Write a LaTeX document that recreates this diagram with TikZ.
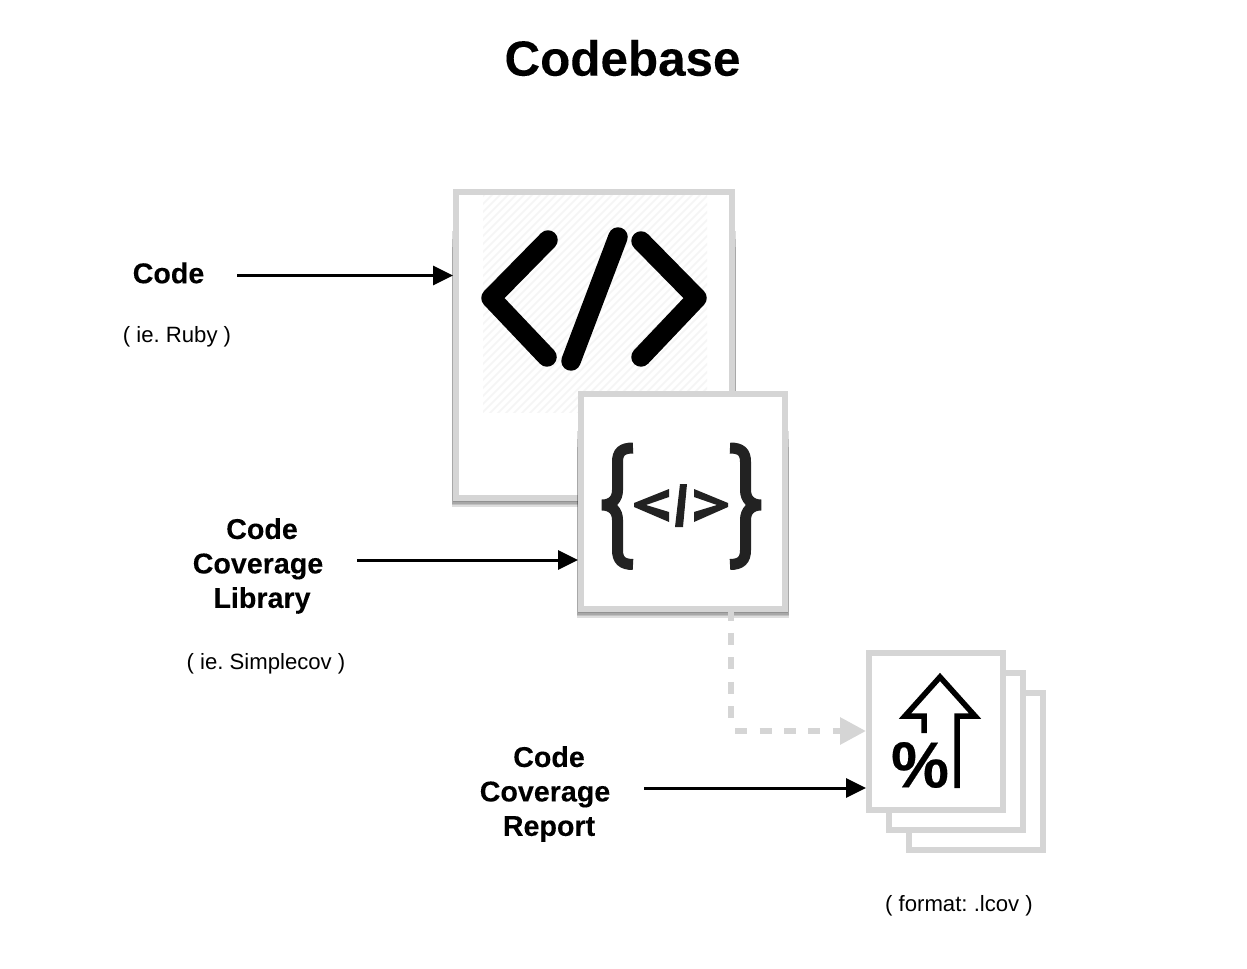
\documentclass[tikz,border=0pt]{standalone}
\usepackage{fontspec}
\setmainfont{Liberation Sans}[BoldFeatures={FakeBold=0.12}]
\newfontfamily\heavyfont{Liberation Sans Bold}[FakeBold=0.3]
\usetikzlibrary{arrows.meta}
\definecolor{boxgray}{HTML}{D5D5D5}
\definecolor{icondark}{HTML}{222222}
\frenchspacing
\tikzset{
  box/.style={draw=boxgray,fill=white,line width=0.12cm,inner sep=0pt},
  softshadow/.style={black,opacity=0.13},
  title/.style={font=\bfseries\fontsize{28.1}{34}\selectfont},
  label/.style={font=\bfseries\fontsize{16.3}{19.6}\selectfont,align=center},
  note/.style={font=\fontsize{12.6}{15}\selectfont},
  feed/.style={line width=0.06cm,-{Triangle[length=0.4cm,width=0.38cm]}},
  graydash/.style={draw=boxgray,line width=0.12cm,dash pattern=on 0.24cm off 0.25cm},
  icon/.style={line width=0.39cm,line cap=round,line join=round},
}
\begin{document}
\begin{tikzpicture}[x=0.02cm,y=-0.02cm]
\useasboundingbox (0,0) rectangle (1247,969);
\node[title] (heading) at (622.5,58) {Codebase};
% code page
\foreach \r in {0,1,...,4} \fill[softshadow] (453-0.3*\r,215+8*\r) rectangle (735+0.3*\r,501+1.4*\r);
\node[box,minimum width=5.52cm,minimum height=6.12cm] (codebox) at (594,345) {};
\begin{scope}
\clip (483,196) rectangle (707,412);
\foreach \k in {0,8,...,480} \draw[black!4,line width=0.03cm] (483+\k,180) -- (483+\k-260,440);
\end{scope}
\draw[icon] (548,240) -- (491,298) -- (547,357);
\draw[icon] (618,237) -- (571,361);
\draw[icon] (641,241) -- (697,298) -- (641,357);
% library page
\foreach \r in {0,1,...,4} \fill[softshadow] (578-0.3*\r,415+8*\r) rectangle (788+0.3*\r,612+1.4*\r);
\node[box,minimum width=4.08cm,minimum height=4.3cm] (libbox) at (683,501.5) {};
\draw[icondark,line width=0.22cm] (633,448) .. controls (622,448) and (617.5,452) .. (617.5,462) -- (617.5,490)
  .. controls (617.5,499) and (612,505) .. (602,505) .. controls (612,505) and (617.5,511) .. (617.5,520) -- (617.5,550)
  .. controls (617.5,560) and (622,564.5) .. (633,564.5);
\draw[icondark,line width=0.22cm] (730,448) .. controls (741,448) and (745.5,452) .. (745.5,462) -- (745.5,490)
  .. controls (745.5,499) and (751,505) .. (761,505) .. controls (751,505) and (745.5,511) .. (745.5,520) -- (745.5,550)
  .. controls (745.5,560) and (741,564.5) .. (730,564.5);
\fill[icondark] (669,489) -- (634,503) -- (634,507) -- (669,522) -- (669,512) -- (646,505) -- (669,497) -- cycle;
\fill[icondark] (694,489) -- (728,503) -- (728,507) -- (694,522) -- (694,512) -- (717,505) -- (694,497) -- cycle;
\fill[icondark] (680,484) -- (687,484) -- (683,527) -- (675,527) -- cycle;
% report pages
\node[box,minimum width=2.68cm,minimum height=3.14cm] (backpage) at (976,771.5) {};
\node[box,minimum width=2.68cm,minimum height=3.14cm] (midpage) at (956,751.5) {};
\node[box,minimum width=2.68cm,minimum height=3.14cm] (reportbox) at (936,731.5) {};
\draw[line width=0.11cm,miter limit=10] (924,733) -- (924,716) -- (905,716) -- (940,677) -- (975,716) -- (957,716) -- (957,788);
\node[font=\heavyfont\fontsize{37}{40}\selectfont,inner sep=0pt] (percent) at (920,765) {\%};
% labels
\node[label] (codelabel) at (168.5,273) {Code};
\node[note] (codenote) at (177,337) {( ie. Ruby )};
\node[label] (liblabel) at (258,566) {\hspace*{0.28em}Code\\Coverage\\\hspace*{0.28em}Library};
\node[note] (libnote) at (266,664) {( ie. Simplecov )};
\node[label] (reportlabel) at (545,794) {\hspace*{0.28em}Code\\Coverage\\\hspace*{0.28em}Report};
\node[note] (reportnote) at (959,906) {( format: .lcov )};
% connectors
\coordinate (codetail) at (237,275.5);
\coordinate (libtail) at (357,560);
\coordinate (reporttail) at (644,788);
\coordinate (dashtop) at (731,612);
\coordinate (dashbend) at (731,725);
\coordinate (dashstart) at (735,731);
\draw[feed] (codetail) -- (codetail -| codebox.west);
\draw[feed] (libtail) -- (libtail -| libbox.west);
\draw[feed] (reporttail) -- (reporttail -| reportbox.west);
\draw[graydash,dash phase=0.07cm] (dashtop) -- (dashbend);
\draw[graydash,-{Triangle[length=0.52cm,width=0.52cm]}] (dashstart) -- (dashstart -| reportbox.west);
\end{tikzpicture}
\end{document}
